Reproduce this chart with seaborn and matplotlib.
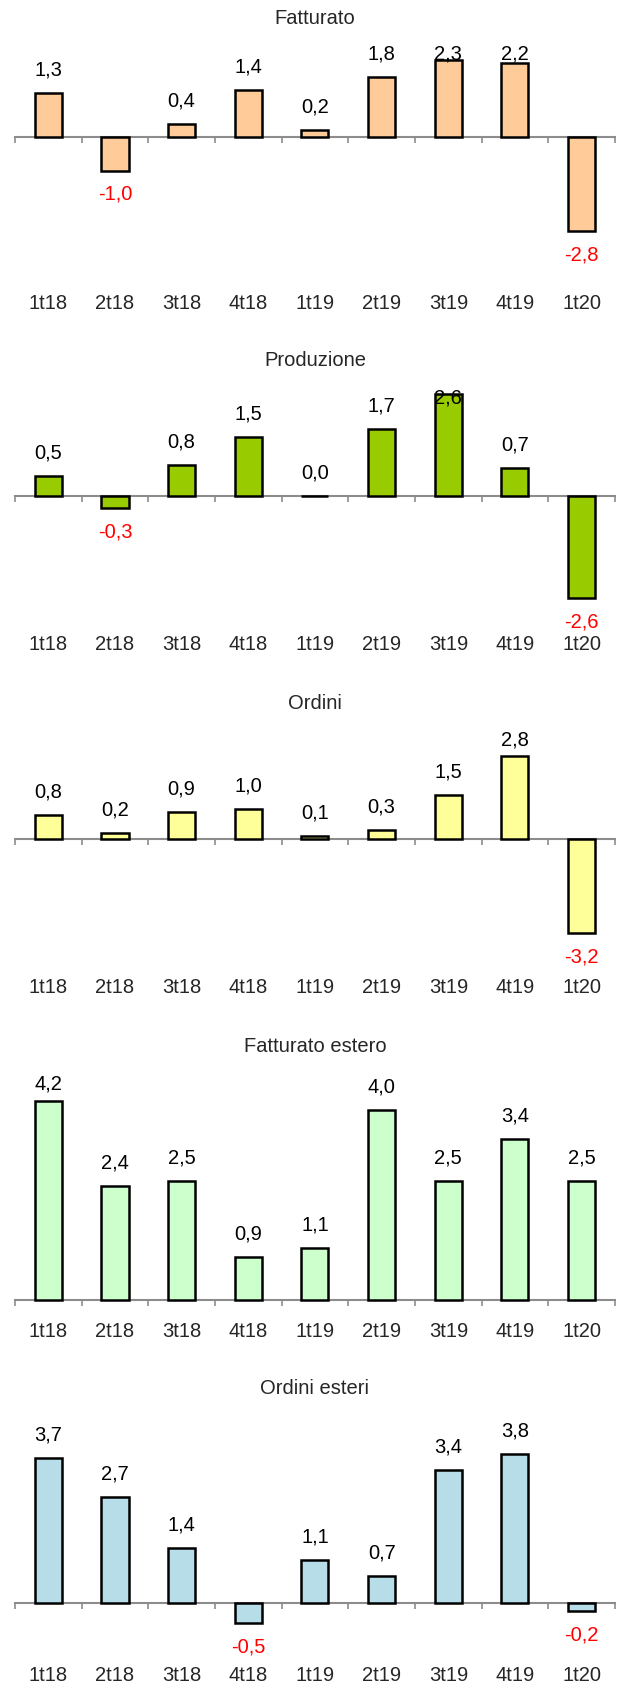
import numpy as np
import pandas as pd
import matplotlib
matplotlib.use('Agg')
import matplotlib.pyplot as plt
import seaborn as sns

sns.set_style('white')
plt.rcParams['font.family'] = ['Liberation Sans', 'DejaVu Sans']

quarters = ['1t18', '2t18', '3t18', '4t18', '1t19', '2t19', '3t19', '4t19', '1t20']
fatturato = [1.3, -1.0, 0.4, 1.4, 0.2, 1.8, 2.3, 2.2, -2.8]
produzione = [0.5, -0.3, 0.8, 1.5, 0.0, 1.7, 2.6, 0.7, -2.6]
ordini = [0.8, 0.2, 0.9, 1.0, 0.1, 0.3, 1.5, 2.8, -3.2]
fatturato_estero = [4.2, 2.4, 2.5, 0.9, 1.1, 4.0, 2.5, 3.4, 2.5]
ordini_esteri = [3.7, 2.7, 1.4, -0.5, 1.1, 0.7, 3.4, 3.8, -0.2]

titles = ['Fatturato', 'Produzione', 'Ordini', 'Fatturato estero', 'Ordini esteri']
series = [fatturato, produzione, ordini, fatturato_estero, ordini_esteri]
colors = ['#FFCC99', '#99CC00', '#FFFF99', '#CCFFCC', '#B7DEE8']

# pixel layout of each panel: zero line, px per unit, plot top, category label centre, title centre
W, H = 621, 1688
layout = [
    (137, 33.5, 44, 304, 18),
    (496, 39.3, 389, 645, 360),
    (839, 29.5, 731, 988, 703),
    (1300, 47.5, 1074, 1332, 1046),
    (1603, 39.2, 1420, 1676, 1389),
]
left_px, right_px = 15, 615
fs = 14.5

fig = plt.figure(figsize=(W / 100, H / 100), dpi=100)

for title, vals, col, (zero, s, top, lab, ttl) in zip(titles, series, colors, layout):
    bottom = lab - 13
    ax = fig.add_axes([left_px / W, 1 - bottom / H, (right_px - left_px) / W, (bottom - top) / H])
    df = pd.DataFrame({'q': quarters, 'v': vals})
    sns.barplot(data=df, x='q', y='v', color=col, edgecolor='black', linewidth=1.8,
                width=0.405, saturation=1, ax=ax)
    ymax = (zero - top) / s
    ymin = -(bottom - zero) / s
    ax.set_ylim(ymin, ymax)
    ax.set_xlim(-0.5, len(quarters) - 0.5)
    ax.set_xlabel('')
    ax.set_ylabel('')
    ax.set_yticks([])
    for sp in ax.spines.values():
        sp.set_visible(False)
    ax.tick_params(axis='x', length=0, pad=2, labelsize=fs)

    # zero line with boundary ticks
    sec = ax.secondary_xaxis(0, transform=ax.transData)
    sec.set_xticks(np.arange(-0.5, len(quarters)))
    sec.tick_params(length=4.5, width=1.2, color='#8c8c8c', labelbottom=False, labeltop=False)
    sec.spines['bottom'].set_color('#8c8c8c')
    sec.spines['bottom'].set_linewidth(1.5)

    cap = ymax - 9.5 / s
    for i, v in enumerate(vals):
        txt = f'{v:.1f}'.replace('.', ',')
        if v >= 0:
            y = min(v + 23 / s, cap)
            ax.text(i, y, txt, ha='center', va='center', fontsize=fs, color='black')
        else:
            ax.text(i, v - 24 / s, txt, ha='center', va='center', fontsize=fs, color='#FF0000')

    fig.text((left_px + right_px) / 2 / W, 1 - ttl / H, title, ha='center', va='center', fontsize=fs)

fig.savefig('out.png', dpi=100)
